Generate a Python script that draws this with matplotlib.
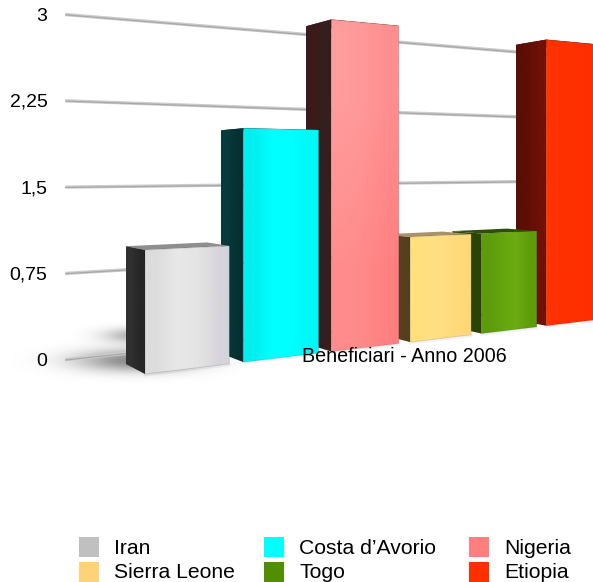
import numpy as np
import matplotlib
matplotlib.use("Agg")
import matplotlib.pyplot as plt
from matplotlib.colors import to_rgb
from matplotlib.patches import Polygon, Rectangle

plt.rcParams["font.family"] = ["Liberation Sans", "DejaVu Sans"]

# Chart data
categories = ["Iran", "Costa d\u2019Avorio", "Nigeria", "Sierra Leone", "Togo", "Etiopia"]
values = [1, 2, 3, 1, 1, 3]
tick_values = [0, 0.75, 1.5, 2.25, 3]
tick_labels = ["0", "0,75", "1,5", "2,25", "3"]
title = "Beneficiari - Anno 2006"

# Colours per bar
legend_colors = ["#c0c0c0", "#00ffff", "#ff7f7f", "#ffd27a", "#4f8f00", "#ff2f00"]
front_stops = [
    ["#dcdcdc", "#e8e8e8", "#e4e4e4", "#d6d4da"],
    ["#00eeee", "#00ffff", "#00ffff", "#00f8f8"],
    ["#ff9c9c", "#ff9a9a", "#ff9494", "#ff8e8e"],
    ["#ffe07c", "#ffe084", "#ffdc80", "#ffd878"],
    ["#5c9c0c", "#64a40e", "#6cac12", "#5e9c0a"],
    ["#ff3200", "#ff3000", "#ff3000", "#ff2e00"],
]
# darkening of each front face towards the floor
front_fade = [1.0, 1.0, 0.9, 1.0, 1.0, 1.0]
side_stops = [
    ["#303030", "#262626"],
    ["#063a3c", "#073032"],
    ["#3c1a1a", "#33201e"],
    ["#5e4628", "#54401f"],
    ["#2c4c04", "#2a4404"],
    ["#5a0e04", "#701006"],
]
top_colors = ["#8e8e8e", "#0c3c3e", "#4a2020", "#a8926a", "#2e5006", "#5e0f05"]

BAR_WIDTH = 0.85
WALL_DEPTH = 2.0
WALL_LEFT = -0.44
WALL_RIGHT = 6.6


# Perspective camera: category position, value and depth to pixels
def project(x, val, z):
    w = 1 + 0.06 * x + 0.052 * z
    u = (145 + 113 * x - 12.5 * z) / w
    v = (374 + 9.9 * x + 9 * z - 124 * val) / w
    return u, v


def gradient_fill(ax, pts, stops, zorder, fade=1.0):
    # Colour ramp clipped to the polygon: stops run left to right, fade top to bottom
    pts = np.array(pts)
    patch = Polygon(pts, closed=True, facecolor="none", edgecolor="none",
                    transform=ax.transData)
    ax.add_patch(patch)
    row = np.array([to_rgb(c) for c in stops])
    ramp = np.stack([row, row * np.array([1.0, fade, fade])])
    im = ax.imshow(ramp, extent=(pts[:, 0].min(), pts[:, 0].max(),
                                 pts[:, 1].max(), pts[:, 1].min()),
                   aspect="auto", interpolation="bilinear", zorder=zorder)
    im.set_clip_path(patch)


fig = plt.figure(figsize=(5.93, 5.82), dpi=100)
ax = fig.add_axes([0, 0, 1, 1])

# Grid lines on the back wall
for val in tick_values:
    p0 = project(WALL_LEFT, val, WALL_DEPTH)
    p1 = project(WALL_RIGHT, val, WALL_DEPTH)
    ax.plot([p0[0], p1[0]], [p0[1], p1[1]], color="#cccccc", lw=2.4,
            solid_capstyle="butt", zorder=1)
    ax.plot([p0[0], p1[0]], [p0[1] + 0.3, p1[1] + 0.3], color="#a8a8a8", lw=0.9,
            solid_capstyle="butt", zorder=1)

# Soft floor shadow left of the first bar, under the grid lines
yy, xx = np.mgrid[300:400, 10:240]
shade = 0.46 * np.exp(-((xx - 135) / 58.0) ** 2 - ((yy - 360) / 11.0) ** 2)
shade += 0.30 * np.exp(-((xx - 135) / 32.0) ** 2 - ((yy - 335) / 7.5) ** 2)
rgba = np.zeros(shade.shape + (4,))
rgba[..., 3] = np.clip(shade, 0, 1)
ax.imshow(rgba, extent=(10, 240, 400, 300), aspect="auto", zorder=0.5)

# Bars, far ones first so nearer ones overlap them
for i in range(len(values) - 1, -1, -1):
    x0 = i
    x1 = i + BAR_WIDTH
    val = values[i]
    zo = 10 + (len(values) - i)

    # contact shadow under the front edge
    s0 = project(x0, 0, 0)
    s1 = project(x1, 0, 0)
    ax.plot([s0[0], s1[0]], [s0[1] + 1.0, s1[1] + 1.0], color="black", alpha=0.05,
            lw=2.0, zorder=zo - 0.5)

    top = [project(x0, val, 0), project(x1, val, 0), project(x1, val, 1), project(x0, val, 1)]
    ax.add_patch(Polygon(top, closed=True, facecolor=top_colors[i], edgecolor="none", zorder=zo))

    side = [project(x0, 0, 0), project(x0, val, 0), project(x0, val, 1), project(x0, 0, 1)]
    gradient_fill(ax, side, side_stops[i], zo + 0.1)

    front = [project(x0, 0, 0), project(x1, 0, 0), project(x1, val, 0), project(x0, val, 0)]
    gradient_fill(ax, front, front_stops[i], zo + 0.2, fade=front_fade[i])
    ax.add_patch(Polygon(front, closed=True, facecolor="none", edgecolor="#000000",
                         alpha=0.12, lw=0.7, joinstyle="round", zorder=zo + 0.3))

# Value labels
for val, lab in zip(tick_values, tick_labels):
    y = project(WALL_LEFT, val, WALL_DEPTH)[1]
    ax.text(47.5, y + 1.5, lab, ha="right", va="center", fontsize=14, color="black", zorder=30)

ax.text(302, 357, title, ha="left", va="center", fontsize=14.2, color="black", zorder=30)

# Legend in two rows of three
col_x = [79, 264, 469]
row_y = [537, 562]
for i, name in enumerate(categories):
    sx = col_x[i % 3]
    sy = row_y[i // 3]
    ax.add_patch(Rectangle((sx, sy), 20, 20, facecolor=legend_colors[i], edgecolor="none", zorder=30))
    ax.text(sx + 35, sy + 11, name, ha="left", va="center", fontsize=15.2, color="black", zorder=30)

ax.set_xlim(0, 593)
ax.set_ylim(582, 0)
ax.axis("off")
fig.savefig("out.png", dpi=100, facecolor="white")
